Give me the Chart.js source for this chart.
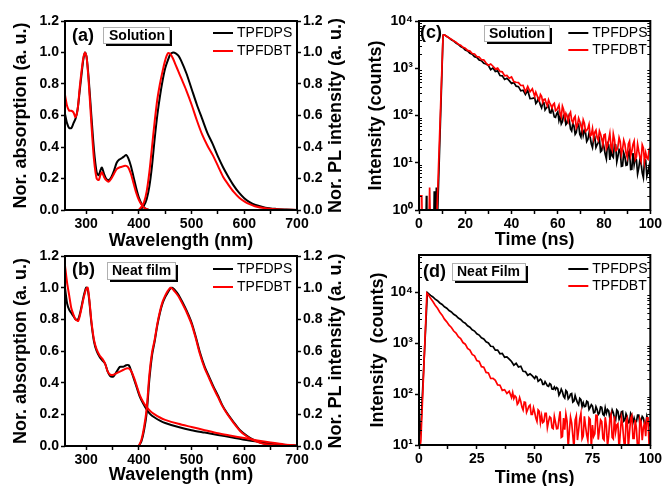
<!DOCTYPE html>
<html><head><meta charset="utf-8">
<script src="https://cdn.jsdelivr.net/npm/chart.js@4.4.1/dist/chart.umd.min.js"></script>
<style>
html,body{margin:0;padding:0;background:#fff;}
body{width:664px;height:486px;position:relative;overflow:hidden;}
canvas{position:absolute;}
</style></head>
<body>
<canvas id="ca" width="345" height="252" style="left:0;top:0"></canvas>
<canvas id="cb" width="345" height="250" style="left:0;top:244px"></canvas>
<canvas id="cc" width="319" height="252" style="left:345px;top:0"></canvas>
<canvas id="cd" width="319" height="250" style="left:345px;top:244px"></canvas>
<script>
// ---------- DATA ----------
const seriesNames = ['TPFDPS', 'TPFDBT'];

// (a) Solution: absorption
const absWlA = [260,264,268,272,276,280,284,288,292,295,298,301,305,310,315,320,324,327,330,334,338,343,348,353,358,363,368,372,376,380,385,390,395,400,405,410,415,420,500,600,700];
const absA_TPFDPS = [0.61,0.55,0.52,0.52,0.55,0.58,0.64,0.76,0.88,0.96,1.0,0.97,0.83,0.60,0.38,0.24,0.22,0.25,0.27,0.23,0.20,0.19,0.21,0.25,0.30,0.32,0.33,0.34,0.35,0.33,0.28,0.21,0.14,0.08,0.04,0.015,0.005,0,0,0,0];
const absA_TPFDBT = [0.73,0.66,0.63,0.63,0.62,0.59,0.64,0.78,0.90,0.97,1.0,0.97,0.81,0.55,0.32,0.20,0.19,0.22,0.24,0.21,0.19,0.18,0.20,0.23,0.26,0.27,0.275,0.28,0.28,0.27,0.23,0.17,0.11,0.065,0.035,0.015,0.005,0,0,0,0];
// (a) Solution: PL
const plWlA = [400,405,410,415,420,425,430,435,440,445,450,455,460,465,470,475,480,490,500,510,520,530,540,550,560,570,580,590,600,610,620,640,660,680,700];
const plA_TPFDPS = [0,0.01,0.03,0.07,0.15,0.28,0.45,0.60,0.72,0.82,0.90,0.95,0.99,1.0,0.995,0.98,0.95,0.87,0.77,0.67,0.58,0.49,0.42,0.34,0.27,0.21,0.155,0.11,0.075,0.05,0.033,0.015,0.007,0.003,0];
const plA_TPFDBT = [0,0.02,0.05,0.12,0.24,0.40,0.56,0.70,0.80,0.88,0.95,0.995,0.99,0.96,0.92,0.88,0.84,0.76,0.67,0.57,0.48,0.41,0.35,0.28,0.21,0.16,0.115,0.08,0.055,0.037,0.024,0.011,0.005,0.002,0];

// (b) Neat film: absorption
const absWlB = [260,264,268,272,276,280,285,290,295,300,303,306,310,315,320,326,331,336,341,346,352,358,364,370,376,381,386,391,396,402,408,415,422,430,440,450,475,500,525,550,575,600,625,650,675,700];
const absB_TPFDPS = [1.0,0.90,0.86,0.84,0.82,0.80,0.80,0.86,0.94,1.0,0.99,0.92,0.78,0.66,0.60,0.56,0.54,0.52,0.47,0.44,0.44,0.47,0.50,0.50,0.51,0.51,0.47,0.42,0.37,0.31,0.27,0.23,0.20,0.18,0.16,0.145,0.12,0.10,0.085,0.07,0.055,0.04,0.028,0.017,0.008,0.003];
const absB_TPFDBT = [1.14,1.03,0.95,0.87,0.83,0.80,0.79,0.85,0.93,0.99,1.0,0.93,0.79,0.67,0.61,0.57,0.55,0.52,0.47,0.45,0.45,0.46,0.47,0.48,0.49,0.49,0.47,0.43,0.38,0.32,0.28,0.245,0.22,0.20,0.18,0.165,0.14,0.12,0.10,0.08,0.065,0.05,0.035,0.022,0.01,0.003];
// (b) Neat film: PL
const plWlB = [400,405,410,415,420,425,430,435,440,445,450,455,460,463,467,472,477,484,490,500,508,516,525,533,541,550,558,567,580,592,605,617,630,645,660,680,700];
const plB_TPFDPS = [0,0.03,0.10,0.21,0.42,0.57,0.66,0.76,0.84,0.90,0.94,0.97,0.995,1.0,0.99,0.97,0.945,0.90,0.86,0.78,0.69,0.59,0.50,0.44,0.38,0.32,0.26,0.21,0.15,0.10,0.065,0.04,0.022,0.01,0.005,0.002,0];
const plB_TPFDBT = [0,0.04,0.12,0.24,0.45,0.59,0.67,0.77,0.85,0.91,0.95,0.98,1.0,0.995,0.98,0.96,0.935,0.89,0.85,0.77,0.68,0.58,0.49,0.43,0.37,0.31,0.255,0.205,0.145,0.095,0.06,0.037,0.02,0.009,0.004,0.002,0];

// (c) Solution: transient PL decay (counts)
const earlyTimeC_TPFDPS = [0,3.0,3.2,3.4,6.4,6.6,6.8,7.3,7.5,7.7,7.9,8.1,10.4];
const earlyCountC_TPFDPS = [0.5,0.5,2,0.5,0.5,2.5,0.5,0.5,3,0.5,3,1,5000];
const earlyTimeC_TPFDBT = [0,0.2,1.2,1.4,4.3,4.6,4.9,7.6,7.8,10.4];
const earlyCountC_TPFDBT = [0.5,2,2,0.5,0.5,3,0.5,0.5,1,5000];
const decayTimeC = [11,12,13,14,15,16,17,18,19,20,21,22,23,24,25,26,27,28,29,30,31,32,33,34,35,36,37,38,39,40,41,42,43,44,45,46,47,48,49,
  50,50.5,51,51.5,52,52.5,53,53.5,54,54.5,55,55.5,56,56.5,57,57.5,58,58.5,59,59.5,
  60,60.5,61,61.5,62,62.5,63,63.5,64,64.5,65,65.5,66,66.5,67,67.5,68,68.5,69,69.5,
  70,70.5,71,71.5,72,72.5,73,73.5,74,74.5,75,75.5,76,76.5,77,77.5,78,78.5,79,79.5,
  80,80.5,81,81.5,82,82.5,83,83.5,84,84.5,85,85.5,86,86.5,87,87.5,88,88.5,89,89.5,
  90,90.5,91,91.5,92,92.5,93,93.5,94,94.5,95,95.5,96,96.5,97,97.5,98,98.5,99,99.5,100];
const decayC_TPFDPS = [5100,4700,4400,3990,3760,3400,3200,2880,2730,2440,
  2320,2080,1990,1760,1690,1500,1440,1270,1230,
  1140,933,1016,855,881,701,690,581,615,547,
  478,497,418,407,333,344,279,339,229,231,
  238,180,193,228,199,165,145,187,186,131,143,153,164,115,113,143,118,93,91,109,
  120,78,97,66,74,101,104,64,69,95,78,52,47,69,60,40,44,65,66,40,
  35,57,38,48,43,28,31,42,35,25,21,33,35,21,24,27,32,17,18,27,
  21,15,12,26,24,11.5,19,14,13,24.5,24,10.4,13.6,19,17.5,8.4,8.6,16.2,13.6,8.8,
  9,16.1,18.3,7.2,7.3,16.1,9,12.4,11.5,5.8,7.7,11.8,9.8,6.1,4.8,11.7,11.4,5.2,6.5,8.6,
  4];
const decayC_TPFDBT = [5100,4760,4380,4120,3760,3560,3230,3080,2780,2660,
  2390,2310,2050,2000,1760,1730,1510,1500,1290,
  1153,1230,1102,968,1014,857,841,693,706,614,
  655,520,506,497,432,436,318,412,318,368,
  255,312,269,228,208,279,255,190,219,223,182,160,215,186,166,144,172,182,126,131,
  144,166,108,93,158,135,88,111,95,76,105,118,79,70,88,96,55,62,88,75,
  61,48,81,69,46,49,53,65,37,39,53,33,44,49,34,30,47,40,32,24,
  39,40,20,23,31,42,22,18.5,41,31,18,18.7,22,34,28,15,19.4,30,24.6,16,
  13,25,28.6,14,17.3,24.5,28.9,11.8,13.3,24.8,17.6,13.1,10.7,24,20.5,10.5,16.3,12.7,11.9,19.4,
  20.8];

// (d) Neat film: transient PL decay (counts)
const earlyTimeD_TPFDPS = [0,0.7,3.6];
const earlyCountD_TPFDPS = [28,18,10000];
const earlyTimeD_TPFDBT = [0,0.3,0.8,3.4];
const earlyCountD_TPFDBT = [10,8,12,9800];
const decayTimeD_TPFDPS = [4,5,6,7,8,9,10,11,12,13,14,15,16,17,18,19,20,21,22,23,24,25,26,27,28,29,30,31,32,33,34,35,36,37,38,39,40,41,42,43,44,45,46,47,48,49,
  50,50.5,51,51.5,52,52.5,53,53.5,54,54.5,55,55.5,56,56.5,57,57.5,58,58.5,59,59.5,
  60,60.5,61,61.5,62,62.5,63,63.5,64,64.5,65,65.5,66,66.5,67,67.5,68,68.5,69,69.5,
  70,70.5,71,71.5,72,72.5,73,73.5,74,74.5,75,75.5,76,76.5,77,77.5,78,78.5,79,79.5,
  80,80.5,81,81.5,82,82.5,83,83.5,84,84.5,85,85.5,86,86.5,87,87.5,88,88.5,89,89.5,
  90,90.5,91,91.5,92,92.5,93,93.5,94,94.5,95,95.5,96,96.5,97,97.5,98,98.5,99,99.5,100];
const decayD_TPFDPS = [9660,8800,8200,7420,6920,6250,5840,5260,4940,4440,
  4160,3740,3510,3150,2960,2650,2490,2220,2090,1850,
  1750,1545,1460,1290,1220,1075,1020,880,870,735,
  740,625,635,535,545,490,
  440,373,407,344,355,283,279,236,251,229,
  204,226,217,179,187,197,187,156,156,177,
  162,146,143,162,155,126,125,139,124,135,
  128,96,106,126,112,91,84,118,111,81,
  87,100,103,70,73,94,79,68,62,83,
  78,57,68,57,58,73,70,50,55,62,
  58,43,44,57,50,40,43,56,55,40,
  38,54,42,50,47,33.5,39,49,43,34,
  31,49,46,32,36,45,46,29.5,31,41,
  36,27.4,28,42,38,27.6,34,28.5,29,39,
  39,25.5,30,36.6,34,25.8,25,37,31,24.3,
  26];
const decayTimeD_TPFDBT = [4,5,6,7,8,9,10,11,12,13,14,15,16,17,18,19,20,21,22,23,24,25,26,27,28,29,30,31,32,33,34,35,36,37,38,39,
  40,40.5,41,41.5,42,42.5,43,43.5,44,44.5,45,45.5,46,46.5,47,47.5,48,48.5,49,49.5,
  50,50.5,51,51.5,52,52.5,53,53.5,54,54.5,55,55.5,56,56.5,57,57.5,58,58.5,59,59.5,
  60,60.5,61,61.5,62,62.5,63,63.5,64,64.5,65,65.5,66,66.5,67,67.5,68,68.5,69,69.5,
  70,70.5,71,71.5,72,72.5,73,73.5,74,74.5,75,75.5,76,76.5,77,77.5,78,78.5,79,79.5,
  80,80.5,81,81.5,82,82.5,83,83.5,84,84.5,85,85.5,86,86.5,87,87.5,88,88.5,89,89.5,
  90,90.5,91,91.5,92,92.5,93,93.5,94,94.5,95,95.5,96,96.5,97,97.5,98,98.5,99,99.5,100];
const decayD_TPFDBT = [9120,7700,6700,5640,4900,4120,3600,3000,2660,2280,
  2060,1750,1600,1350,1240,1040,965,795,740,605,
  570,460,440,348,340,268,262,204,205,
  188,152,150,119,123,104,114,
  86,108,82,93,87,63,68,86,72,56,
  49,70,69,44,50,58,61,40,40,54,
  44,34,29,49,46,27.5,38,27.6,29,42,
  42,22,29,35.7,34,21.9,21,36.5,28,20.8,
  21,32.4,46,14.1,14.7,33.9,20,40.8,29.5,9,
  18.7,35.6,27.4,15.3,8.5,31,37.5,12.5,19.5,32.7,
  42,13.2,15,36.8,23.4,15.8,12.2,34.2,32,8.5,
  24.6,14.7,16.6,38.4,38,12.8,20,31.3,29,13.5,
  12.6,35.2,23.9,9.5,15.1,32.7,39.6,14.1,13.2,36.9,
  18.1,25,26.5,8,16.8,34.1,24.6,12.9,8,29.6,
  33.6,9,17.6,33.4,37.9,13.5,13.5,31,21,8.5,
  9,32.8,28.8,12.4,22.1,26.8,14.9,34.4,34.4,9,
  18];

// tick values / labels
const wlTicks = [300,400,500,600,700];
const wlMinor = [350,450,550,650];
const normTicks = [0,0.2,0.4,0.6,0.8,1.0,1.2];
const timeTicksC = [0,20,40,60,80,100];
const timeMinorC = [10,30,50,70,90];
const timeTicksD = [0,25,50,75,100];
const timeMinorD = [12.5,37.5,62.5,87.5];
const logTicksC = [1,10,100,1000,10000];
const logTicksD = [10,100,1000,10000];
const logLabels = {1:'10\u2070',10:'10\u00b9',100:'10\u00b2',1000:'10\u00b3',10000:'10\u2074'};

// ---------- HELPERS ----------
const FONT = '"Liberation Sans", Arial, Helvetica, sans-serif';
const BLACK = '#000000', RED = '#ff0000';
const pts = (xs, ys) => xs.map((x, i) => ({x: x, y: ys[i]}));

const deco = {
  id: 'deco',
  afterDraw(chart, args, o) {
    const ctx = chart.ctx, a = chart.chartArea;
    ctx.save();
    if (o.logMinor) {
      const sy = chart.scales.y;
      ctx.strokeStyle = '#000'; ctx.lineWidth = 1;
      o.logMinor.forEach(d => {
        for (let k = 2; k <= 9; k++) {
          const v = k * d;
          if (v <= sy.min || v >= sy.max) continue;
          const py = Math.round(sy.getPixelForValue(v)) + 0.5;
          ctx.beginPath();
          ctx.moveTo(a.left, py); ctx.lineTo(a.left + 3, py);
          ctx.moveTo(a.right - 3, py); ctx.lineTo(a.right, py);
          ctx.stroke();
        }
      });
    }
    ctx.strokeStyle = '#000'; ctx.lineWidth = 2;
    ctx.strokeRect(a.left, a.top, a.right - a.left, a.bottom - a.top);
    ctx.fillStyle = '#000';
    ctx.textBaseline = 'middle'; ctx.textAlign = 'left';
    ctx.font = 'bold 18px ' + FONT;
    ctx.fillText(o.label, a.left + o.labelDx, a.top + o.labelDy);
    const bx = Math.round(a.left + o.boxDx), by = Math.round(a.top + o.boxDy);
    ctx.fillStyle = '#fff';
    ctx.fillRect(bx, by, o.boxW, o.boxH);
    ctx.strokeStyle = '#b0b0b0'; ctx.lineWidth = 1;
    ctx.strokeRect(bx + 0.5, by + 0.5, o.boxW, o.boxH);
    ctx.fillStyle = '#000';
    ctx.fillRect(bx + 3, by + o.boxH + 1, o.boxW, 2);
    ctx.fillRect(bx + o.boxW + 1, by + 3, 2, o.boxH);
    ctx.font = 'bold 14px ' + FONT;
    ctx.fillText(o.box, bx + o.boxPad, by + o.boxH / 2 + 1);
    ctx.font = '14px ' + FONT;
    const cols = [BLACK, RED];
    seriesNames.forEach((n, i) => {
      const y = a.top + o.legDy[i];
      ctx.strokeStyle = cols[i]; ctx.lineWidth = 2;
      ctx.beginPath();
      ctx.moveTo(a.right + o.legLine[0], y); ctx.lineTo(a.right + o.legLine[1], y);
      ctx.stroke();
      ctx.fillStyle = '#000';
      ctx.fillText(n, a.right + o.legText, y + 0.5);
    });
    if (o.rightTitle) {
      ctx.save();
      ctx.translate(o.rightTitleX, (a.top + a.bottom) / 2);
      ctx.rotate(-Math.PI / 2);
      ctx.font = 'bold 18px ' + FONT;
      ctx.textAlign = 'center'; ctx.textBaseline = 'middle';
      ctx.fillStyle = '#000';
      ctx.fillText(o.rightTitle, 0, 0);
      ctx.restore();
    }
    ctx.restore();
  }
};

function axisBase() {
  return {
    grid: {display: true, drawOnChartArea: false, drawTicks: true, tickLength: 4, tickWidth: 1.5, tickColor: '#000'},
    border: {display: false},
    ticks: {color: '#000', font: {family: FONT, size: 14, weight: 'bold'}, padding: 2, maxRotation: 0, autoSkip: false}
  };
}

function makePanel(id, s) {
  const W = s.W, H = s.H;
  const x = axisBase();
  const allX = s.xTicks.concat(s.xMinor).sort((p, q) => p - q);
  Object.assign(x, {
    type: 'linear', position: 'bottom', min: s.xMin, max: s.xMax,
    afterBuildTicks: sc => { sc.ticks = allX.map(v => ({value: v})); },
    afterFit: sc => { sc.height = H - s.B; },
    title: {display: true, text: s.xTitle, color: '#000', font: {family: FONT, size: 18, weight: 'bold'}, padding: {top: 0, bottom: s.xTitlePad}}
  });
  x.ticks.callback = v => (s.xTicks.indexOf(v) >= 0 ? String(v) : '');
  const y = axisBase();
  Object.assign(y, {
    type: s.yType, position: 'left', min: s.yMin, max: s.yMax,
    afterBuildTicks: sc => { sc.ticks = s.yTicks.map(v => ({value: v})); },
    afterFit: sc => { sc.width = s.L; },
    title: {display: true, text: s.yTitle, color: '#000', font: {family: FONT, size: 18, weight: 'bold'}, padding: {top: s.yTitlePad, bottom: 0}}
  });
  y.ticks.callback = s.yLabel;
  const scales = {x: x, y: y};
  if (s.y2) {
    const y2 = axisBase();
    Object.assign(y2, {
      type: 'linear', position: 'right', min: s.yMin, max: s.yMax,
      afterBuildTicks: sc => { sc.ticks = s.yTicks.map(v => ({value: v})); },
      afterFit: sc => { sc.width = W - s.R; },
      title: {display: false}
    });
    y2.ticks.callback = s.yLabel;
    scales.y2 = y2;
  }
  return new Chart(document.getElementById(id), {
    type: 'line',
    data: {datasets: s.datasets},
    options: {
      responsive: false, animation: false, devicePixelRatio: 1,
      layout: {padding: {top: s.T, left: 0, right: s.y2 ? 0 : W - s.R, bottom: 0}},
      elements: {point: {radius: 0}, line: {borderWidth: 2}},
      plugins: {legend: {display: false}, tooltip: {enabled: false}, deco: s.deco},
      scales: scales
    },
    plugins: [deco]
  });
}

function ds(label, data, color, axis, order, tension, bw) {
  return {label: label, data: data, borderColor: color, backgroundColor: color, yAxisID: axis,
          order: order, tension: tension, borderWidth: bw, pointRadius: 0, fill: false};
}

const normLabel = v => Number(v).toFixed(1);
const logLabel = v => logLabels[v] || '';

makePanel('ca', {
  W: 345, H: 252, L: 65, T: 21, R: 297, B: 210,
  xMin: 260, xMax: 700, xTicks: wlTicks, xMinor: wlMinor, xTitle: 'Wavelength (nm)', xTitlePad: 0,
  yType: 'linear', yMin: 0, yMax: 1.2, yTicks: normTicks, yLabel: normLabel,
  yTitle: 'Nor. absorption (a. u.)', yTitlePad: 10, y2: true,
  datasets: [
    ds(seriesNames[0] + ' abs', pts(absWlA, absA_TPFDPS), BLACK, 'y', 1, 0.25, 2),
    ds(seriesNames[1] + ' abs', pts(absWlA, absA_TPFDBT), RED, 'y', 0, 0.25, 2),
    ds(seriesNames[0] + ' PL', pts(plWlA, plA_TPFDPS), BLACK, 'y2', 1, 0.3, 2),
    ds(seriesNames[1] + ' PL', pts(plWlA, plA_TPFDBT), RED, 'y2', 0, 0.3, 2)
  ],
  deco: {label: '(a)', labelDx: 7, labelDy: 15, box: 'Solution', boxDx: 38, boxDy: 6, boxW: 66, boxH: 16, boxPad: 6,
         legDy: [12, 30], legLine: [-84, -64], legText: -60,
         rightTitle: 'Nor. PL intensity (a. u.)', rightTitleX: 336}
});

makePanel('cb', {
  W: 345, H: 250, L: 65, T: 12, R: 297, B: 202,
  xMin: 260, xMax: 700, xTicks: wlTicks, xMinor: wlMinor, xTitle: 'Wavelength (nm)', xTitlePad: 8,
  yType: 'linear', yMin: 0, yMax: 1.2, yTicks: normTicks, yLabel: normLabel,
  yTitle: 'Nor. absorption (a. u.)', yTitlePad: 10, y2: true,
  datasets: [
    ds(seriesNames[0] + ' abs', pts(absWlB, absB_TPFDPS), BLACK, 'y', 1, 0.25, 2),
    ds(seriesNames[1] + ' abs', pts(absWlB, absB_TPFDBT), RED, 'y', 0, 0.25, 2),
    ds(seriesNames[0] + ' PL', pts(plWlB, plB_TPFDPS), BLACK, 'y2', 1, 0.3, 2),
    ds(seriesNames[1] + ' PL', pts(plWlB, plB_TPFDBT), RED, 'y2', 0, 0.3, 2)
  ],
  deco: {label: '(b)', labelDx: 7, labelDy: 14, box: 'Neat film', boxDx: 42, boxDy: 6, boxW: 68, boxH: 17, boxPad: 5,
         legDy: [13, 31], legLine: [-84, -64], legText: -60,
         rightTitle: 'Nor. PL intensity (a. u.)', rightTitleX: 336}
});

makePanel('cc', {
  W: 319, H: 252, L: 74, T: 21, R: 306, B: 210,
  xMin: 0, xMax: 100, xTicks: timeTicksC, xMinor: timeMinorC, xTitle: 'Time (ns)', xTitlePad: 1,
  yType: 'logarithmic', yMin: 1, yMax: 10000, yTicks: logTicksC, yLabel: logLabel,
  yTitle: 'Intensity (counts)', yTitlePad: 20, y2: false,
  datasets: [
    ds(seriesNames[0], pts(earlyTimeC_TPFDPS.concat(decayTimeC), earlyCountC_TPFDPS.concat(decayC_TPFDPS)), BLACK, 'y', 1, 0, 1.7),
    ds(seriesNames[1], pts(earlyTimeC_TPFDBT.concat(decayTimeC), earlyCountC_TPFDBT.concat(decayC_TPFDBT)), RED, 'y', 0, 0, 1.7)
  ],
  deco: {label: '(c)', labelDx: 1, labelDy: 12, box: 'Solution', boxDx: 65, boxDy: 4, boxW: 65, boxH: 16, boxPad: 5,
         legDy: [12, 29], legLine: [-82, -62], legText: -58, logMinor: [1, 10, 100, 1000]}
});

makePanel('cd', {
  W: 319, H: 250, L: 74, T: 11, R: 306, B: 201,
  xMin: 0, xMax: 100, xTicks: timeTicksD, xMinor: timeMinorD, xTitle: 'Time (ns)', xTitlePad: 5,
  yType: 'logarithmic', yMin: 10, yMax: 55000, yTicks: logTicksD, yLabel: logLabel,
  yTitle: 'Intensity  (counts)', yTitlePad: 22, y2: false,
  datasets: [
    ds(seriesNames[0], pts(earlyTimeD_TPFDPS.concat(decayTimeD_TPFDPS), earlyCountD_TPFDPS.concat(decayD_TPFDPS)), BLACK, 'y', 1, 0, 1.7),
    ds(seriesNames[1], pts(earlyTimeD_TPFDBT.concat(decayTimeD_TPFDBT), earlyCountD_TPFDBT.concat(decayD_TPFDBT)), RED, 'y', 0, 0, 1.7)
  ],
  deco: {label: '(d)', labelDx: 4, labelDy: 17, box: 'Neat Film', boxDx: 33, boxDy: 8, boxW: 73, boxH: 17, boxPad: 5,
         legDy: [14, 31], legLine: [-82, -62], legText: -58, logMinor: [10, 100, 1000, 10000]}
});
</script>
</body></html>
